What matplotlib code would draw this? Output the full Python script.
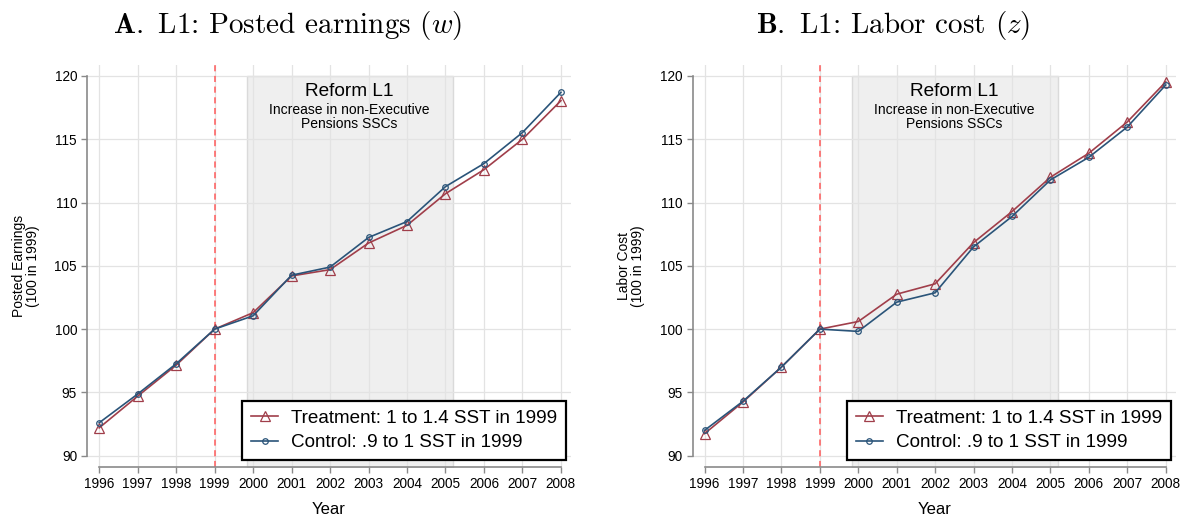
import matplotlib
matplotlib.use('Agg')
import matplotlib.pyplot as plt

matplotlib.rcParams['font.family'] = ['Liberation Sans', 'DejaVu Sans']
matplotlib.rcParams['mathtext.fontset'] = 'cm'

years = list(range(1996, 2009))

# Panel A: posted earnings
earn_treat = [92.2, 94.7, 97.15, 100.0, 101.3, 104.2, 104.7, 106.8, 108.2, 110.7, 112.6, 115.0, 118.05]
earn_ctrl = [92.6, 94.87, 97.26, 100.0, 101.05, 104.26, 104.9, 107.24, 108.5, 111.26, 113.08, 115.53, 118.71]

# Panel B: labor cost
cost_treat = [91.74, 94.24, 97.0, 100.0, 100.6, 102.76, 103.58, 106.84, 109.29, 112.0, 113.9, 116.37, 119.53]
cost_ctrl = [92.0, 94.3, 97.0, 100.0, 99.82, 102.13, 102.87, 106.5, 108.9, 111.79, 113.58, 115.97, 119.29]

titles = [r'$\mathbf{A.}$ L1: Posted earnings ($w$)',
          r'$\mathbf{B.}$ L1: Labor cost ($z$)']
ylabels = ['Posted Earnings\n(100 in 1999)', 'Labor Cost\n(100 in 1999)']
legend_labels = ['Treatment: 1 to 1.4 SST in 1999', 'Control: .9 to 1 SST in 1999']

RED = '#a03e4a'
BLUE = '#2a5479'
YMIN, YMAX = 89.13, 120.87


def draw_panel(ax, treat, ctrl, ylabel):
    ax.set_xlim(1995.69, 2008.26)
    ax.set_ylim(YMIN, YMAX)

    ax.set_axisbelow(True)
    ax.grid(True, color='#e3e3e3', linewidth=0.9)

    # reform window
    ax.fill_between([1999.83, 2005.19], YMIN, 120, color='#efefef',
                    edgecolor='#dadada', linewidth=1.0, zorder=0.3)
    ax.axvline(1999, color='#ff5a5a', linestyle=(0, (4, 3)), linewidth=1.1, zorder=2)

    ax.plot(years, treat, color=RED, linewidth=1.2, marker='^', markersize=6.5,
            markerfacecolor='none', markeredgewidth=0.9, label=legend_labels[0], zorder=3)
    ax.plot(years, ctrl, color=BLUE, linewidth=1.2, marker='o', markersize=4,
            markerfacecolor='none', markeredgewidth=0.9, label=legend_labels[1], zorder=4)

    ax.text(2002.5, 118.75, 'Reform L1', ha='center', va='center', fontsize=13.7)
    ax.text(2002.5, 117.85, 'Increase in non-Executive\nPensions SSCs', ha='center',
            va='top', fontsize=10, linespacing=1.0)

    ax.set_xticks(years)
    ax.set_yticks([90, 95, 100, 105, 110, 115, 120])
    ax.tick_params(axis='both', direction='out', length=4.3, width=1, color='#8a8a8a',
                   labelsize=9.8, pad=3)
    for side in ['top', 'right']:
        ax.spines[side].set_visible(False)
    ax.spines['left'].set_bounds(90, 120)
    ax.spines['bottom'].set_bounds(1996, 2008)
    for side in ['left', 'bottom']:
        ax.spines[side].set_color('#8a8a8a')
        ax.spines[side].set_linewidth(1.2)

    ax.set_xlabel('Year', fontsize=12, labelpad=8)
    ax.set_ylabel(ylabel, fontsize=10, linespacing=1.0)
    ax.yaxis.set_label_coords(-0.098, 0.5)

    leg = ax.legend(loc='lower right', bbox_to_anchor=(0.99, 0.0167), borderaxespad=0,
                    fontsize=13.6, frameon=True, fancybox=False, handlelength=1.45,
                    handletextpad=0.7, borderpad=0.45, labelspacing=0.4)
    leg.get_frame().set_edgecolor('black')
    leg.get_frame().set_linewidth(1.6)
    leg.get_frame().set_alpha(1)


fig = plt.figure(figsize=(11.84, 5.19), dpi=100)
ax1 = fig.add_axes([0.0737, 0.1008, 0.4085, 0.774])
ax2 = fig.add_axes([0.585, 0.1008, 0.408, 0.774])

draw_panel(ax1, earn_treat, earn_ctrl, ylabels[0])
draw_panel(ax2, cost_treat, cost_ctrl, ylabels[1])

fig.text(288 / 1184, 1 - 33 / 519, titles[0], ha='center', va='baseline', fontsize=21,
         family='cmr10')
fig.text(893 / 1184, 1 - 33 / 519, titles[1], ha='center', va='baseline', fontsize=21,
         family='cmr10')

fig.savefig('out.png', dpi=100, facecolor='white')
